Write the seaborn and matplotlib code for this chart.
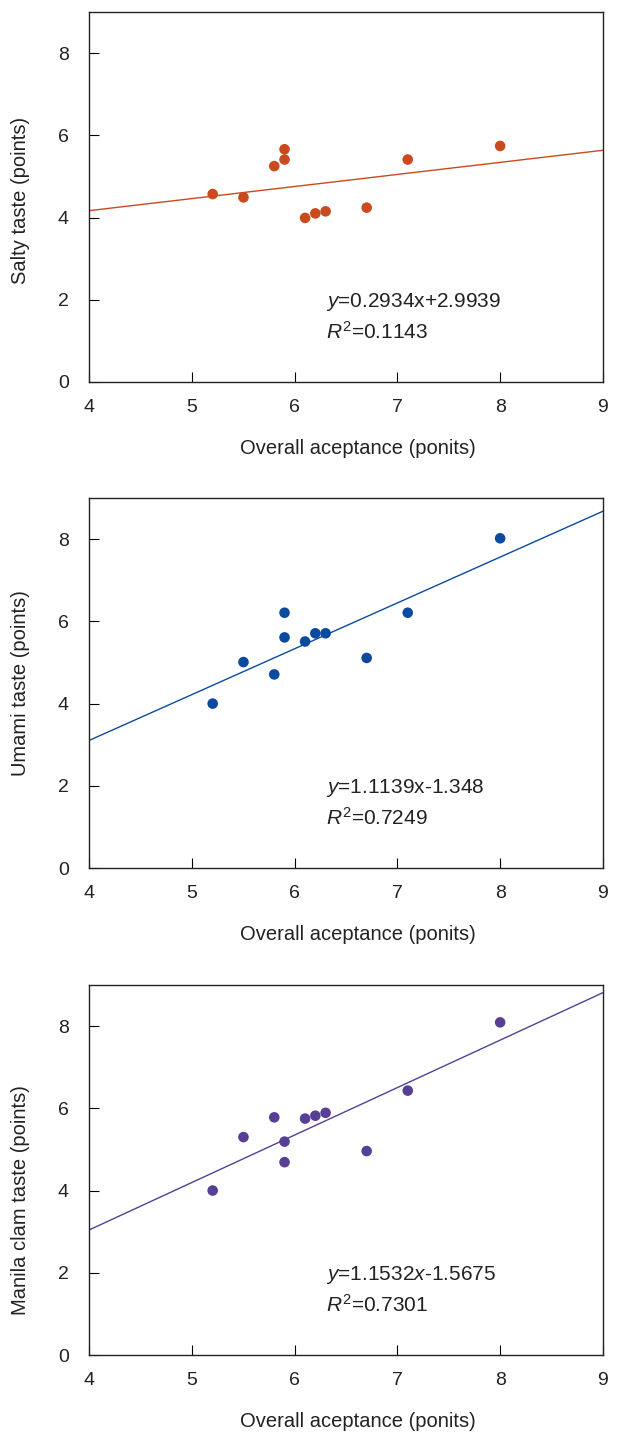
import numpy as np
import matplotlib
matplotlib.use('Agg')
import matplotlib.pyplot as plt
import pandas as pd
import seaborn as sns

# overall acceptance (x) shared by the three panels
overall = [5.2, 5.5, 5.8, 5.9, 5.9, 6.1, 6.2, 6.3, 6.7, 7.1, 8.0]

salty = [4.57, 4.49, 5.25, 5.41, 5.66, 3.99, 4.10, 4.15, 4.24, 5.41, 5.74]
umami = [4.00, 5.01, 4.71, 5.61, 6.21, 5.51, 5.71, 5.71, 5.11, 6.21, 8.02]
clam = [4.00, 5.30, 5.78, 5.19, 4.69, 5.75, 5.82, 5.89, 4.96, 6.43, 8.09]

ylabels = ['Salty taste (points)', 'Umami taste (points)', 'Manila clam taste (points)']
slopes = [0.2934, 1.1139, 1.1532]
intercepts = [2.9939, -1.348, -1.5675]
eq_texts = ['$y$=0.2934x+2.9939', '$y$=1.1139x-1.348', '$y$=1.1532$x$-1.5675']
r2_texts = ['$R^2$=0.1143', '$R^2$=0.7249', '$R^2$=0.7301']
colors = ['#C94A1F', '#0B4A9E', '#573F95']
line_x = [4, 9]

sns.set_style('ticks')
plt.rcParams['font.family'] = ['Liberation Sans', 'DejaVu Sans']
plt.rcParams['mathtext.fontset'] = 'custom'
plt.rcParams['mathtext.rm'] = 'Liberation Sans'
plt.rcParams['mathtext.it'] = 'Liberation Sans:italic'

fig = plt.figure(figsize=(6.17, 14.36), dpi=100)
bottoms = [0.734, 0.3955, 0.0564]
ylabel_pos = [0.49, 0.5, 0.42]

for i, yvals in enumerate([salty, umami, clam]):
    ax = fig.add_axes([0.145, bottoms[i], 0.832, 0.2577])
    df = pd.DataFrame({'x': overall, 'y': yvals})
    fit = pd.DataFrame({'x': line_x,
                        'y': [slopes[i] * v + intercepts[i] for v in line_x]})
    sns.lineplot(data=fit, x='x', y='y', ax=ax, color=colors[i], lw=1.0)
    sns.scatterplot(data=df, x='x', y='y', ax=ax, color=colors[i], s=58,
                    edgecolor='none', zorder=3)
    ax.set_xlim(4, 9)
    ax.set_ylim(0, 9)
    ax.set_xticks([4, 5, 6, 7, 8, 9])
    ax.set_yticks([0, 2, 4, 6, 8])
    ax.tick_params(direction='in', length=7, width=0.8, labelsize=14,
                   color='black', labelcolor='#222222')
    ax.tick_params(axis='x', pad=12)
    ax.tick_params(axis='y', pad=15)
    for sp in ax.spines.values():
        sp.set_visible(True)
        sp.set_color('#222222')
        sp.set_linewidth(1.0)
    ax.set_xlabel('Overall aceptance (ponits)', fontsize=14.5, color='#222222')
    ax.set_ylabel(ylabels[i], fontsize=14.5, color='#222222')
    ax.xaxis.set_label_coords(0.523, -0.153)
    ax.yaxis.set_label_coords(-0.115, ylabel_pos[i])
    ax.text(6.3, 1.95, eq_texts[i], fontsize=15, va='center', ha='left',
            color='#222222')
    ax.text(6.3, 1.22, r2_texts[i], fontsize=15, va='center', ha='left',
            color='#222222')

fig.savefig('out.png', dpi=100)
